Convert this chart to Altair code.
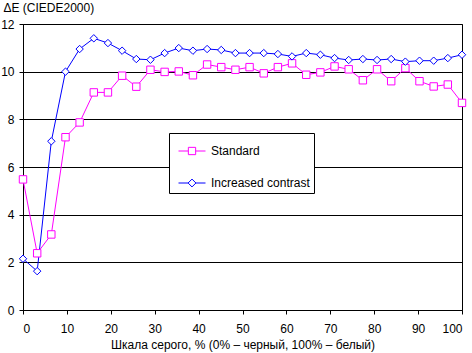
import altair as alt
import pandas as pd

# Gray-scale positions (%)
x_vals = [0, 3.23, 6.45, 9.68, 12.9, 16.13, 19.35, 22.58, 25.81, 29.03, 32.26,
          35.48, 38.71, 41.94, 45.16, 48.39, 51.61, 54.84, 58.06, 61.29, 64.52,
          67.74, 70.97, 74.19, 77.42, 80.65, 83.87, 87.1, 90.32, 93.55, 96.77, 100]

standard = [5.48, 2.38, 3.17, 7.25, 7.87, 9.13, 9.13, 9.83, 9.37, 10.08, 9.99,
            10.01, 9.85, 10.3, 10.19, 10.08, 10.19, 9.93, 10.19, 10.35, 9.87,
            9.97, 10.22, 10.1, 9.64, 10.1, 9.6, 10.15, 9.6, 9.38, 9.46, 8.69]

increased = [2.15, 1.63, 7.08, 10.0, 10.95, 11.4, 11.2, 10.88, 10.53, 10.5, 10.78,
             10.99, 10.88, 10.95, 10.91, 10.78, 10.78, 10.78, 10.74, 10.64, 10.78,
             10.71, 10.57, 10.49, 10.53, 10.49, 10.53, 10.42, 10.46, 10.46, 10.57, 10.71]

series_names = ["Standard", "Increased contrast"]
series_colors = ["#FF00FF", "#0000FF"]
x_ticks = [0, 10, 20, 30, 40, 50, 60, 70, 80, 90, 100]
y_ticks = [0, 2, 4, 6, 8, 10, 12]

FONT = "Liberation Sans"

rows = []
for name, vals in zip(series_names, [standard, increased]):
    for i, (xv, yv) in enumerate(zip(x_vals, vals)):
        rows.append({"x": xv, "y": yv, "series": name, "order": i})
df = pd.DataFrame(rows)

x_enc = alt.X("x:Q",
              scale=alt.Scale(domain=[0, 100], nice=False, zero=False),
              axis=alt.Axis(values=x_ticks, grid=False,
                            title="Шкала серого, % (0% – черный, 100% – белый)",
                            titlePadding=5, labelPadding=9, tickSize=4))
y_enc = alt.Y("y:Q",
              scale=alt.Scale(domain=[0, 12], nice=False),
              axis=alt.Axis(values=y_ticks, grid=True, gridColor="black",
                            gridOpacity=1, gridWidth=1, tickSize=4, labelPadding=5,
                            title="ΔE (CIEDE2000)", titleAngle=0, titleAlign="left",
                            titleBaseline="top", titleX=-20, titleY=-22,
                            titleFontWeight="normal"))

color_scale = alt.Scale(domain=series_names, range=series_colors)

lines = alt.Chart(df).mark_line(strokeWidth=1).encode(
    x=x_enc, y=y_enc,
    stroke=alt.Stroke("series:N", scale=color_scale, legend=None),
    order="order:Q",
)

points = alt.Chart(df).mark_point(filled=False, fill="white", fillOpacity=1,
                                  strokeWidth=1, size=55, opacity=1).encode(
    x=x_enc, y=y_enc,
    stroke=alt.Stroke("series:N", scale=color_scale, legend=None),
    shape=alt.Shape("series:N",
                    scale=alt.Scale(domain=series_names, range=["square", "diamond"]),
                    legend=None),
)

sq_path = "M-1,0H-0.27M0.27,0H1M-0.27,-0.27H0.27V0.27H-0.27Z"
dia_path = "M-1,0H-0.29M0.29,0H1M-0.29,0L0,-0.29L0.29,0L0,0.29Z"

legend_def = alt.Legend(title=None, orient="none", legendX=146, legendY=109,
                        direction="vertical", fillColor="white", strokeColor="black",
                        padding=4, symbolSize=729, symbolOpacity=1,
                        symbolStrokeWidth=1, labelOffset=5, labelFont=FONT,
                        labelFontSize=12, labelColor="black", rowPadding=12,
                        symbolOffset=5, labelLimit=300, cornerRadius=0)

legend_layer = alt.Chart(df).mark_point(filled=False, opacity=0, strokeWidth=1).encode(
    x=x_enc, y=y_enc,
    stroke=alt.Stroke("series:N", scale=color_scale, legend=legend_def),
    shape=alt.Shape("series:N",
                    scale=alt.Scale(domain=series_names, range=[sq_path, dia_path]),
                    legend=legend_def),
)

chart = alt.layer(lines, points, legend_layer).resolve_scale(
    shape="independent", stroke="independent"
).properties(
    width=439, height=286,
    autosize=alt.AutoSizeParams(type="none"),
    padding={"left": 23, "top": 24, "right": 10, "bottom": 43},
    background="white",
).configure_view(
    stroke="black", strokeWidth=1
).configure_axis(
    domainColor="black", tickColor="black", labelColor="black", titleColor="black",
    labelFont=FONT, titleFont=FONT, labelFontSize=12, titleFontSize=12,
    titleFontWeight="normal", domainWidth=1, tickWidth=1,
)

chart.save("out.html", embed_options={"renderer": "svg", "actions": False})
